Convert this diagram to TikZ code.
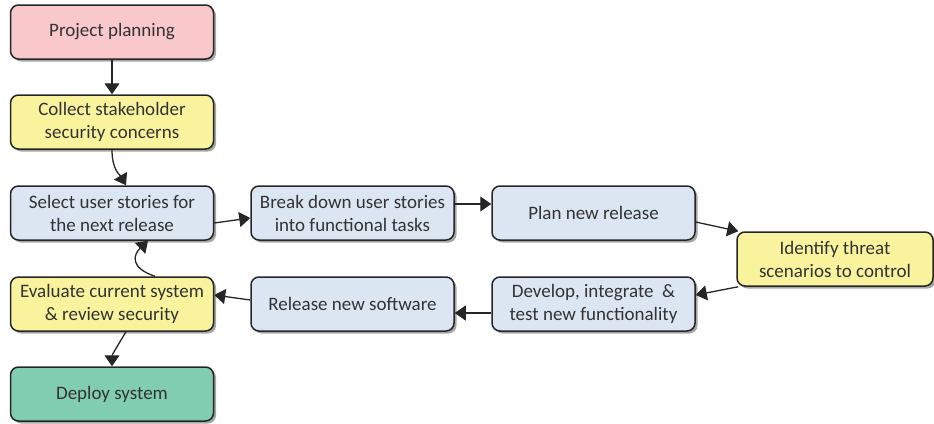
\documentclass[tikz,border=0pt]{standalone}
\usepackage{fontspec}
\setmainfont{Carlito}
\usetikzlibrary{shadows,arrows.meta,positioning}
\definecolor{cpink}{HTML}{F9C8CA}
\definecolor{cyellow}{HTML}{F8F39C}
\definecolor{cblue}{HTML}{DCE6F2}
\definecolor{cgreen}{HTML}{80CDB0}
\definecolor{cline}{HTML}{262626}
\begin{document}
\begin{tikzpicture}[x=1pt,y=-1pt,
  box/.style={draw=cline, line width=1.5pt, rounded corners=8pt, minimum width=203pt, minimum height=54pt,
    align=center, font=\fontsize{19}{23}\selectfont, text=black!80, inner sep=2pt,
    drop shadow={shadow xshift=2.5pt, shadow yshift=-2.5pt, opacity=0.35, fill=black}},
  arr/.style={-{Triangle[length=11pt,width=15pt]}, line width=1.3pt, draw=cline}]
\useasboundingbox (0,0) rectangle (934,423);
\node[box, fill=cpink] (pp) at (112,32) {Project planning};
\node[box, fill=cyellow] (cs) at (112,122) {Collect stakeholder\\security concerns};
\node[box, fill=cblue] (su) at (112,213) {Select user stories for\\the next release};
\node[box, fill=cyellow] (ev) at (112,304) {Evaluate current system\\\& review security};
\node[box, fill=cgreen] (dp) at (112,394) {Deploy system};
\node[box, fill=cblue] (bd) at (352.5,213) {Break down user stories\\into functional tasks};
\node[box, fill=cblue] (pn) at (593.5,213) {Plan new release};
\node[box, fill=cyellow, minimum width=196pt] (it) at (835,259) {Identify threat\\scenarios to control};
\node[box, fill=cblue] (dv) at (593.5,304) {Develop, integrate~~\&\\test new functionality};
\node[box, fill=cblue] (rs) at (352.5,304) {Release new software};

\draw[arr] (pp.south) -- (cs.north);
\draw[arr] (cs.south) .. controls (112,170) and (120,175) .. ([xshift=14pt]su.north);
\draw[arr] ([yshift=-10pt]su.east) -- ([yshift=-5pt]bd.west);
\draw[arr] ([yshift=9pt]bd.east) -- ([yshift=9pt]pn.west);
\draw[arr] ([yshift=-9pt]pn.east) -- ([xshift=2pt]it.north west);
\draw[arr] ([xshift=2pt]it.south west) -- ([yshift=9pt]dv.east);
\draw[arr] ([yshift=-9pt]dv.west) -- ([yshift=-9pt]rs.west -| rs.east);
\draw[arr] ([yshift=4pt]rs.west) -- ([yshift=9pt]ev.east);
\draw[arr] ([xshift=43pt]ev.north) .. controls (130,268) and (133,255) .. ([xshift=36pt]su.south);
\draw[arr] ([xshift=14pt]ev.south) .. controls (118,345) and (112,355) .. (dp.north);
\end{tikzpicture}
\end{document}
